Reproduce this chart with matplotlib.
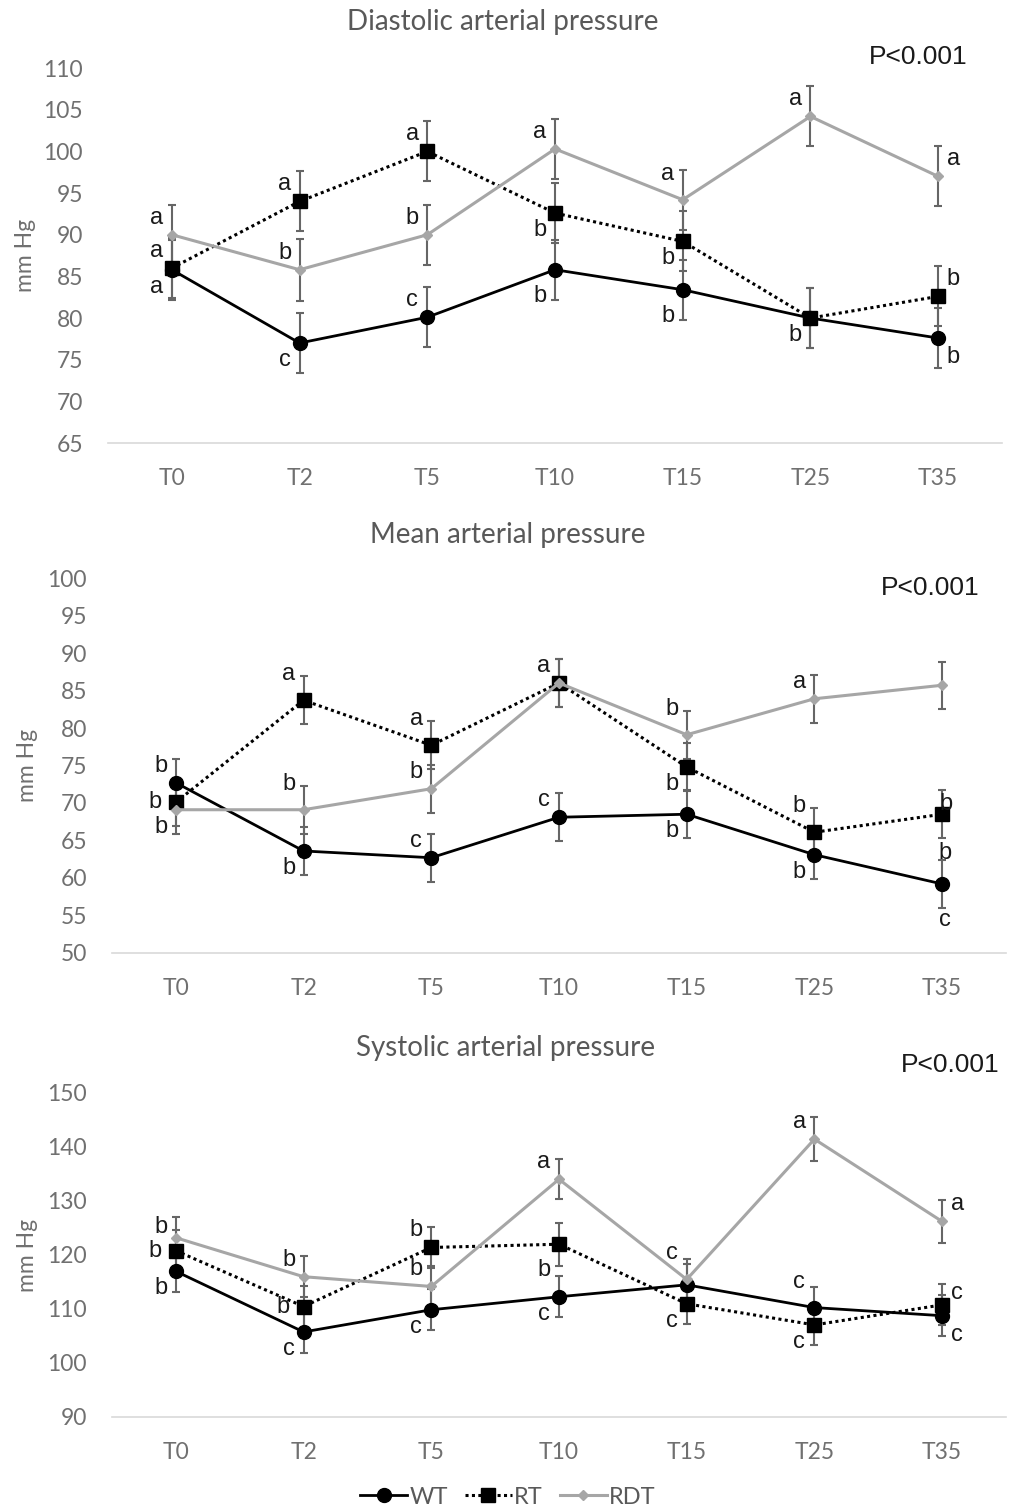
""" Arterial pressure over time for WT, RT and RDT groups. """

import matplotlib.pyplot as plt

times = ['T0', 'T2', 'T5', 'T10', 'T15', 'T25', 'T35']
groups = ['WT', 'RT', 'RDT']

# Diastolic arterial pressure (mm Hg)
dia_wt = [85.8, 77.0, 80.1, 85.8, 83.4, 80.0, 77.6]
dia_rt = [86.0, 94.0, 100.0, 92.6, 89.2, 80.0, 82.6]
dia_rdt = [90.0, 85.8, 90.0, 100.3, 94.2, 104.2, 97.0]
dia_wt_err = [3.6, 3.6, 3.6, 3.6, 3.6, 3.6, 3.6]
dia_rt_err = [3.6, 3.6, 3.6, 3.6, 3.6, 3.6, 3.6]
dia_rdt_err = [3.6, 3.7, 3.6, 3.6, 3.6, 3.6, 3.6]

# Mean arterial pressure (mm Hg)
mean_wt = [72.7, 63.6, 62.7, 68.1, 68.5, 63.1, 59.2]
mean_rt = [70.1, 83.7, 77.7, 86.0, 74.8, 66.1, 68.5]
mean_rdt = [69.1, 69.1, 71.9, 86.0, 79.1, 83.9, 85.7]
mean_wt_err = [3.2, 3.2, 3.2, 3.2, 3.2, 3.2, 3.2]
mean_rt_err = [3.2, 3.2, 3.2, 3.2, 3.2, 3.2, 3.2]
mean_rdt_err = [3.2, 3.2, 3.2, 3.2, 3.2, 3.2, 3.1]

# Systolic arterial pressure (mm Hg)
sys_wt = [116.9, 105.7, 109.8, 112.2, 114.4, 110.2, 108.7]
sys_rt = [120.7, 110.4, 121.3, 121.9, 110.9, 107.0, 110.7]
sys_rdt = [123.1, 115.9, 114.1, 133.9, 115.4, 141.3, 126.1]
sys_wt_err = [3.8, 3.9, 3.8, 3.8, 3.8, 3.8, 3.8]
sys_rt_err = [3.8, 3.8, 3.8, 4.0, 3.8, 3.8, 3.8]
sys_rdt_err = [3.8, 3.8, 3.8, 3.7, 3.8, 4.1, 4.0]

# significance letters: (time, group, letter)
dia_letters = [('T0', 'RDT', 'a'), ('T0', 'RT', 'a'), ('T0', 'WT', 'a'),
               ('T2', 'RT', 'a'), ('T2', 'RDT', 'b'), ('T2', 'WT', 'c'),
               ('T5', 'RT', 'a'), ('T5', 'RDT', 'b'), ('T5', 'WT', 'c'),
               ('T10', 'RDT', 'a'), ('T10', 'RT', 'b'), ('T10', 'WT', 'b'),
               ('T15', 'RDT', 'a'), ('T15', 'RT', 'b'), ('T15', 'WT', 'b'),
               ('T25', 'RDT', 'a'), ('T25', 'RT', 'b'),
               ('T35', 'RDT', 'a'), ('T35', 'RT', 'b'), ('T35', 'WT', 'b')]
mean_letters = [('T0', 'WT', 'b'), ('T0', 'RT', 'b'), ('T0', 'RDT', 'b'),
                ('T2', 'RT', 'a'), ('T2', 'RDT', 'b'), ('T2', 'WT', 'b'),
                ('T5', 'RT', 'a'), ('T5', 'RDT', 'b'), ('T5', 'WT', 'c'),
                ('T10', 'RDT', 'a'), ('T10', 'WT', 'c'),
                ('T15', 'RDT', 'b'), ('T15', 'RT', 'b'), ('T15', 'WT', 'b'),
                ('T25', 'RDT', 'a'), ('T25', 'RT', 'b'), ('T25', 'WT', 'b'),
                ('T35', 'RT', 'b'), ('T35', 'WT', 'b'), ('T35', 'WT', 'c')]
sys_letters = [('T0', 'RDT', 'b'), ('T0', 'RT', 'b'), ('T0', 'WT', 'b'),
               ('T2', 'RDT', 'b'), ('T2', 'RT', 'b'), ('T2', 'WT', 'c'),
               ('T5', 'RT', 'b'), ('T5', 'RDT', 'b'), ('T5', 'WT', 'c'),
               ('T10', 'RDT', 'a'), ('T10', 'RT', 'b'), ('T10', 'WT', 'c'),
               ('T15', 'RDT', 'c'), ('T15', 'RT', 'c'),
               ('T25', 'RDT', 'a'), ('T25', 'WT', 'c'), ('T25', 'RT', 'c'),
               ('T35', 'RDT', 'a'), ('T35', 'RT', 'c'), ('T35', 'WT', 'c')]

# where each letter sits relative to its point (style only)
dia_place = ['ul', 'ul', 'll', 'ul', 'ul', 'll', 'ul', 'ul', 'ul', 'ul',
             'll', 'dl', 'hul', 'll', 'dl', 'ul', 'll', 'ur', 'ur', 'lr']
mean_place = ['ul', 'l', 'll', 'hul', 'hul', 'll', 'hul', 'ul', 'ul', 'ul',
              'ul', 'hul', 'll', 'll', 'ul', 'hul', 'll', 'on', 'up', 'dn']
sys_place = ['sul', 'l', 'll', 'ul', 'l', 'll', 'ul', 'ul', 'll', 'ul',
             'dl', 'll', 'hul', 'll', 'ul', 'hul', 'll', 'ur', 'sur', 'lr']

offsets = {'ul': (-15, 17), 'hul': (-15, 26), 'sul': (-15, 11),
           'l': (-21, 0), 'll': (-15, -17), 'dl': (-15, -26),
           'ur': (15, 17), 'sur': (15, 12), 'lr': (15, -19),
           'on': (4, 10), 'up': (3, 31), 'dn': (3, -36)}

panels = [
    dict(title='Diastolic arterial pressure',
         values={'WT': dia_wt, 'RT': dia_rt, 'RDT': dia_rdt},
         errors={'WT': dia_wt_err, 'RT': dia_rt_err, 'RDT': dia_rdt_err},
         letters=dia_letters, place=dia_place,
         ylim=(65, 110), ystep=5,
         rect=[0.1058, 0.7066, 0.8756, 0.2483],
         title_xy=(503, 22), p_xy=(918, 57), ylab_xy=(25, 255)),
    dict(title='Mean arterial pressure',
         values={'WT': mean_wt, 'RT': mean_rt, 'RDT': mean_rdt},
         errors={'WT': mean_wt_err, 'RT': mean_rt_err, 'RDT': mean_rdt_err},
         letters=mean_letters, place=mean_place,
         ylim=(50, 100), ystep=5,
         rect=[0.1097, 0.3689, 0.8756, 0.2483],
         title_xy=(508, 535), p_xy=(930, 588), ylab_xy=(27, 765)),
    dict(title='Systolic arterial pressure',
         values={'WT': sys_wt, 'RT': sys_rt, 'RDT': sys_rdt},
         errors={'WT': sys_wt_err, 'RT': sys_rt_err, 'RDT': sys_rdt_err},
         letters=sys_letters, place=sys_place,
         ylim=(90, 150), ystep=10,
         rect=[0.1097, 0.0616, 0.8756, 0.2152],
         title_xy=(506, 1048), p_xy=(950, 1065), ylab_xy=(27, 1255)),
]

styles = {
    'WT': dict(color='black', linestyle='-', marker='o', markersize=10, lw=2),
    'RT': dict(color='black', linestyle=(0, (1, 1.1)), marker='s', markersize=9.5, lw=2.2),
    'RDT': dict(color='#a6a6a6', linestyle='-', marker='D', markersize=5.5, lw=2.2),
}

W, H = 1021, 1510
fig = plt.figure(figsize=(W / 100, H / 100), dpi=100)
font = 'Lato'
letter_font = 'Liberation Sans'
tick_grey = '#707070'

for p in panels:
    ax = fig.add_axes(p['rect'])
    x = list(range(len(times)))
    for g in groups:
        ax.errorbar(x, p['values'][g], yerr=p['errors'][g], fmt='none',
                    ecolor='#666666', elinewidth=1.5, capsize=3, capthick=1.5, zorder=2)
    handles = []
    for g in groups:
        st = styles[g]
        line, = ax.plot(x, p['values'][g], color=st['color'], linestyle=st['linestyle'],
                        marker=st['marker'], markersize=st['markersize'], lw=st['lw'],
                        markerfacecolor=st['color'], markeredgecolor=st['color'],
                        label=g, zorder=3)
        handles.append(line)

    for (t, g, letter), code in zip(p['letters'], p['place']):
        i = times.index(t)
        ax.annotate(letter, xy=(i, p['values'][g][i]), xytext=offsets[code],
                    textcoords='offset pixels', ha='center', va='center',
                    fontsize=17, family=letter_font, color='#1a1a1a', zorder=5)

    ax.set_xlim(-0.5, len(times) - 0.5)
    ax.set_ylim(*p['ylim'])
    ax.set_yticks(range(p['ylim'][0], p['ylim'][1] + 1, p['ystep']))
    ax.set_xticks(x)
    ax.set_xticklabels(times)
    for s in ['top', 'right', 'left']:
        ax.spines[s].set_visible(False)
    ax.spines['bottom'].set_color('#d9d9d9')
    ax.spines['bottom'].set_linewidth(1.2)
    ax.tick_params(axis='both', length=0, labelsize=16.5, labelcolor=tick_grey)
    ax.tick_params(axis='y', pad=18)
    ax.tick_params(axis='x', pad=18)
    for lab in ax.get_xticklabels() + ax.get_yticklabels():
        lab.set_family(font)

    tx, ty = p['title_xy']
    fig.text(tx / W, 1 - ty / H, p['title'], ha='center', va='center',
             fontsize=20, color='#595959', family=font)
    px, py = p['p_xy']
    fig.text(px / W, 1 - py / H, 'P<0.001', ha='center', va='center',
             fontsize=19, color='#1a1a1a', family=letter_font)
    lx, ly = p['ylab_xy']
    fig.text(lx / W, 1 - ly / H, 'mm Hg', ha='center', va='center', rotation=90,
             fontsize=16.5, color=tick_grey, family=font)

leg = fig.legend(handles, groups, loc='center', bbox_to_anchor=(508 / W, 1 - 1497 / H),
                 ncol=3, frameon=False, handlelength=2.0, handletextpad=0.1,
                 columnspacing=0.7, prop={'family': font, 'size': 17})
for t in leg.get_texts():
    t.set_color('#595959')

plt.savefig('out.png', dpi=100)
plt.close()
